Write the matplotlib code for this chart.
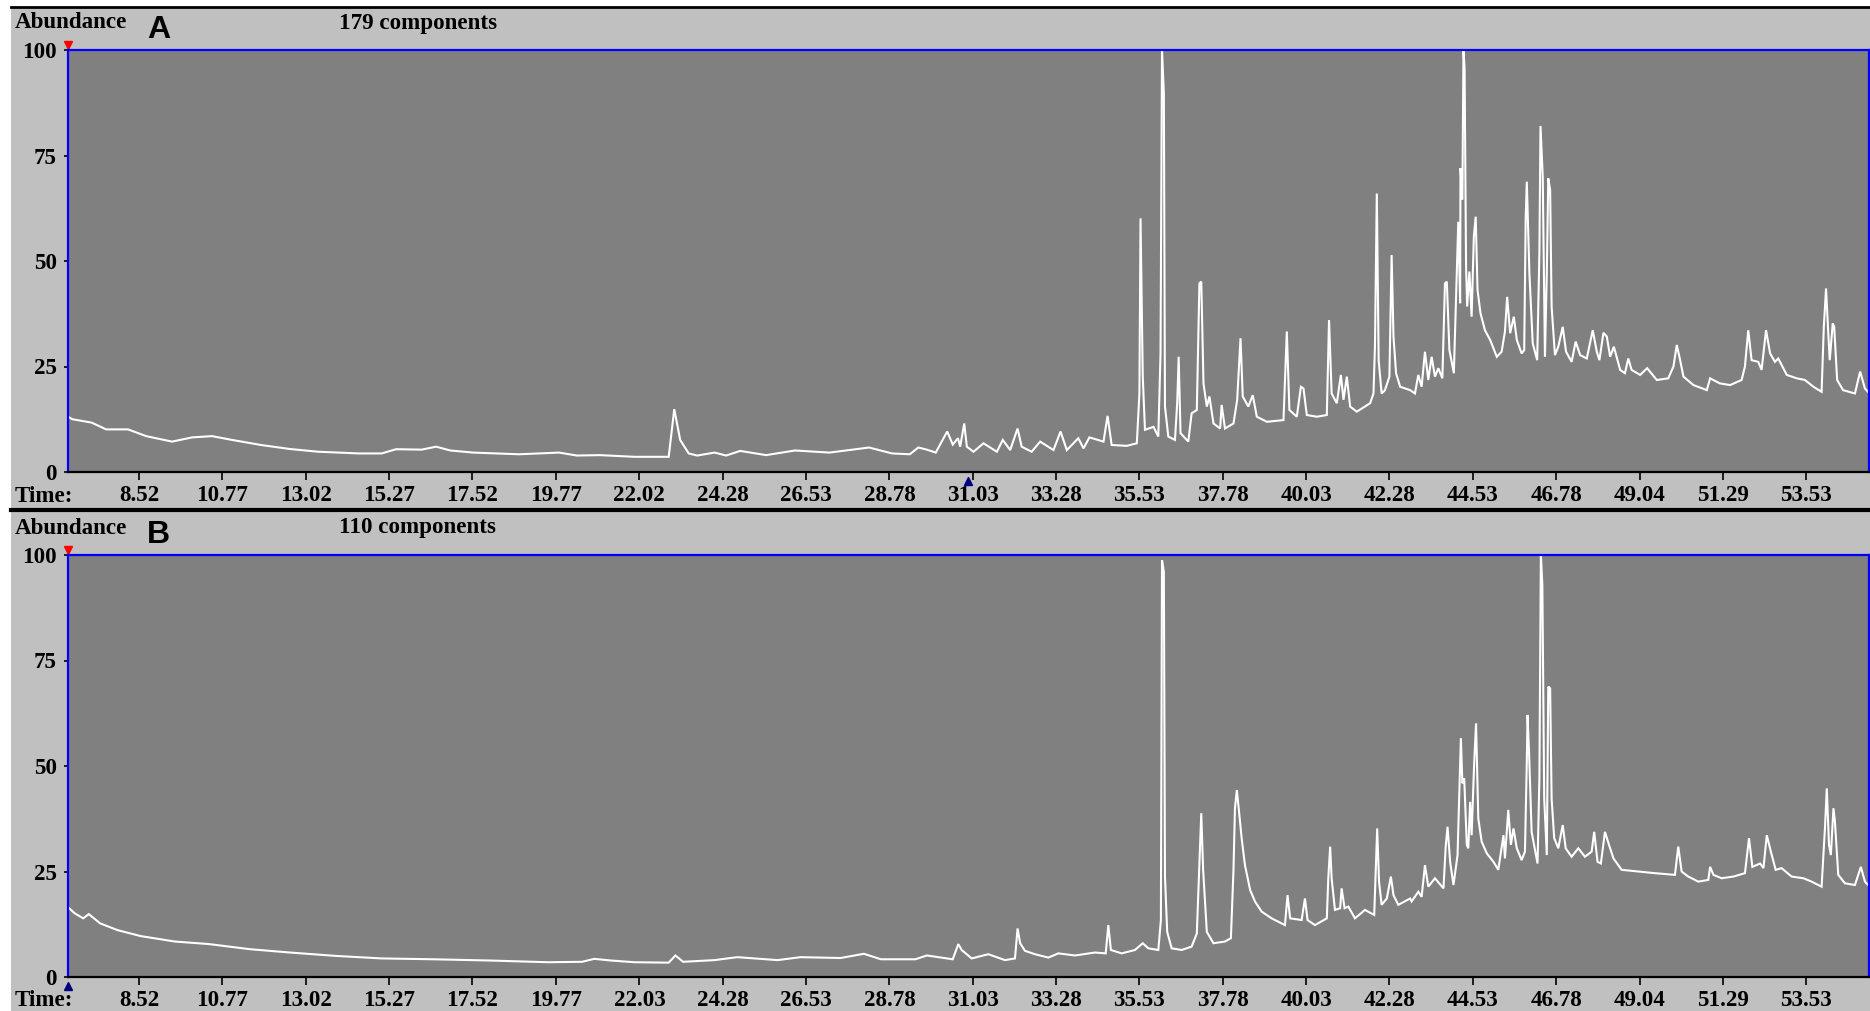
import matplotlib
matplotlib.use('Agg')
import matplotlib.pyplot as plt
from matplotlib.lines import Line2D
from matplotlib.patches import Rectangle

# ---- data (time in min, abundance %) ----
a_time = [6.60, 6.72, 7.24, 7.63, 8.22, 8.71, 9.41, 9.95, 10.49, 11.03, 11.81, 12.59,
          13.36, 14.45, 15.07, 15.46, 16.15, 16.54, 16.92, 17.54, 18.78, 19.86, 20.34,
          20.96, 21.89, 22.82, 22.97, 23.13, 23.36, 23.59, 24.06, 24.37, 24.75, 25.45,
          26.23, 27.16, 28.23, 28.85, 29.33, 29.56, 29.79, 30.03, 30.34, 30.49, 30.63,
          30.69, 30.80, 30.87, 31.05, 31.32, 31.68, 31.84, 32.04, 32.24, 32.35, 32.62,
          32.85, 33.21, 33.40, 33.57, 33.88, 34.02, 34.18, 34.56, 34.67, 34.78, 35.19,
          35.46, 35.53, 35.56, 35.62, 35.68, 35.91, 36.04, 36.10, 36.14, 36.19, 36.22,
          36.31, 36.49, 36.55, 36.59, 36.64, 36.85, 36.94, 37.08, 37.15, 37.20, 37.26,
          37.35, 37.42, 37.53, 37.71, 37.75, 37.84, 38.07, 38.17, 38.26, 38.32, 38.47,
          38.59, 38.70, 38.97, 39.42, 39.51, 39.58, 39.78, 39.89, 39.96, 40.05, 40.32,
          40.59, 40.65, 40.72, 40.86, 40.97, 41.04, 41.13, 41.22, 41.40, 41.76, 41.85,
          41.89, 41.94, 41.99, 42.07, 42.16, 42.28, 42.34, 42.39, 42.46, 42.57, 42.84,
          42.97, 43.06, 43.15, 43.24, 43.33, 43.42, 43.51, 43.60, 43.71, 43.78, 43.83,
          43.90, 44.02, 44.10, 44.14, 44.19, 44.20, 44.25, 44.28, 44.31, 44.35, 44.38,
          44.44, 44.50, 44.56, 44.61, 44.66, 44.74, 44.86, 45.00, 45.18, 45.31, 45.40,
          45.46, 45.54, 45.64, 45.72, 45.85, 45.92, 45.96, 45.99, 46.06, 46.15, 46.27,
          46.33, 46.36, 46.42, 46.48, 46.53, 46.57, 46.62, 46.66, 46.75, 46.84, 46.96,
          47.05, 47.20, 47.31, 47.43, 47.61, 47.77, 47.88, 47.95, 48.06, 48.15, 48.24,
          48.34, 48.51, 48.64, 48.73, 48.82, 49.05, 49.24, 49.50, 49.81, 49.95, 50.04,
          50.13, 50.22, 50.49, 50.85, 50.94, 51.20, 51.48, 51.79, 51.88, 51.97, 52.06,
          52.24, 52.33, 52.45, 52.56, 52.69, 52.78, 53.01, 53.28, 53.50, 53.73, 53.95,
          54.01, 54.07, 54.13, 54.17, 54.25, 54.29, 54.37, 54.53, 54.85, 54.99, 55.12,
          55.24]
a_abund = [13.1, 12.5, 11.7, 10.1, 10.1, 8.5, 7.2, 8.2, 8.5, 7.6, 6.4, 5.45,
           4.8, 4.4, 4.4, 5.4, 5.3, 6.0, 5.1, 4.6, 4.2, 4.6, 3.9,
           4.0, 3.6, 3.6, 14.9, 7.6, 4.4, 3.9, 4.6, 3.9, 5.0, 4.0,
           5.1, 4.6, 5.8, 4.4, 4.2, 5.8, 5.3, 4.6, 9.6, 6.5, 8.0,
           6.0, 11.5, 6.0, 4.8, 6.8, 4.8, 7.6, 5.2, 10.3, 6.0, 4.8,
           7.2, 5.2, 9.6, 5.2, 8.0, 5.6, 8.2, 7.2, 13.3, 6.4, 6.2,
           6.8, 18.6, 60.1, 22.6, 10.0, 10.7, 8.4, 28.1, 100.0, 89.7, 15.5,
           8.4, 7.6, 16.3, 27.3, 9.2, 7.2, 13.9, 14.7, 44.7, 45.1, 21.0,
           15.5, 17.9, 11.5, 10.3, 15.9, 10.3, 11.5, 17.1, 31.7, 17.9, 15.5,
           18.2, 13.1, 11.9, 12.3, 33.3, 14.7, 13.1, 20.2, 19.8, 13.5, 13.1,
           13.5, 36.0, 18.6, 16.3, 23.0, 17.1, 22.6, 15.5, 14.3, 16.3, 18.6,
           29.7, 66.0, 26.5, 18.6, 19.4, 22.6, 51.4, 32.1, 23.4, 20.2, 19.4,
           18.6, 23.0, 20.2, 28.5, 21.8, 27.3, 22.6, 24.6, 22.2, 44.7, 45.1,
           28.9, 23.4, 47.9, 59.3, 40.0, 72.0, 64.5, 100.0, 95.7, 48.7, 39.2,
           47.5, 36.8, 55.8, 60.5, 43.1, 37.6, 33.6, 31.3, 27.3, 28.5, 33.3,
           41.5, 32.9, 36.8, 31.3, 28.1, 28.9, 60.1, 68.8, 47.1, 30.5, 26.5,
           51.8, 82.0, 70.0, 27.3, 47.1, 69.6, 66.8, 39.2, 27.7, 29.7, 34.4,
           28.5, 26.1, 30.9, 27.7, 26.9, 33.6, 28.5, 26.5, 33.0, 32.1, 27.3,
           29.7, 24.2, 23.4, 26.9, 24.2, 23.0, 24.6, 21.8, 22.2, 25.0, 30.1,
           26.5, 22.6, 20.6, 19.4, 22.2, 21.0, 20.6, 21.8, 25.0, 33.6, 26.5,
           26.1, 24.2, 33.6, 28.1, 26.1, 26.9, 23.0, 22.2, 21.8, 20.2, 19.0,
           34.4, 43.5, 32.9, 26.5, 35.2, 34.4, 21.8, 19.4, 18.6, 23.8, 19.8,
           18.6]

b_time = [6.58, 6.78, 7.01, 7.16, 7.47, 7.94, 8.56, 9.49, 10.41, 11.50, 12.59, 13.83,
          15.07, 16.46, 18.01, 19.56, 20.48, 20.81, 21.27, 21.89, 22.82, 23.00, 23.21,
          24.06, 24.67, 25.76, 26.38, 27.46, 28.09, 28.55, 29.48, 29.79, 30.49, 30.64,
          30.73, 31.00, 31.45, 31.90, 32.17, 32.24, 32.31, 32.44, 32.71, 33.07, 33.34,
          33.79, 34.33, 34.62, 34.69, 34.76, 35.05, 35.41, 35.62, 35.77, 36.04, 36.11,
          36.14, 36.19, 36.22, 36.28, 36.40, 36.67, 36.94, 37.08, 37.15, 37.20, 37.25,
          37.35, 37.53, 37.84, 38.00, 38.07, 38.11, 38.16, 38.22, 38.29, 38.38, 38.52,
          38.65, 38.83, 39.10, 39.46, 39.53, 39.60, 39.91, 40.00, 40.07, 40.27, 40.59,
          40.63, 40.68, 40.72, 40.81, 40.95, 40.99, 41.07, 41.17, 41.35, 41.62, 41.87,
          41.91, 41.95, 42.00, 42.07, 42.21, 42.32, 42.39, 42.52, 42.84, 42.88, 43.06,
          43.15, 43.24, 43.33, 43.51, 43.74, 43.80, 43.85, 43.92, 44.01, 44.12, 44.17,
          44.21, 44.25, 44.30, 44.37, 44.41, 44.46, 44.50, 44.57, 44.62, 44.68, 44.77,
          44.91, 45.09, 45.22, 45.36, 45.40, 45.49, 45.56, 45.63, 45.72, 45.85, 45.94,
          45.99, 46.01, 46.05, 46.12, 46.28, 46.33, 46.37, 46.41, 46.46, 46.53, 46.57,
          46.62, 46.66, 46.73, 46.84, 46.96, 47.04, 47.20, 47.38, 47.56, 47.74, 47.81,
          47.90, 47.99, 48.10, 48.21, 48.33, 48.55, 49.00, 49.45, 49.99, 50.08, 50.17,
          50.35, 50.62, 50.89, 50.94, 51.03, 51.25, 51.57, 51.88, 51.99, 52.08, 52.29,
          52.38, 52.47, 52.58, 52.71, 52.87, 53.14, 53.46, 53.68, 53.95, 54.04, 54.09,
          54.15, 54.20, 54.27, 54.31, 54.40, 54.58, 54.85, 55.01, 55.12, 55.25]
b_abund = [16.7, 15.1, 13.9, 14.9, 12.7, 11.1, 9.7, 8.4, 7.8, 6.6, 5.8, 5.0,
           4.4, 4.2, 3.9, 3.5, 3.6, 4.3, 3.9, 3.5, 3.4, 5.1, 3.6,
           4.0, 4.7, 4.0, 4.7, 4.5, 5.5, 4.2, 4.2, 5.1, 4.2, 7.8,
           6.4, 4.4, 5.4, 4.0, 4.4, 11.5, 8.0, 6.2, 5.4, 4.6, 5.6,
           5.1, 5.8, 5.6, 12.3, 6.4, 5.6, 6.4, 8.0, 6.8, 6.4, 13.5,
           98.8, 96.0, 23.8, 10.7, 6.8, 6.4, 7.2, 10.3, 26.9, 38.8, 25.4,
           10.7, 8.0, 8.4, 9.2, 25.4, 40.0, 44.3, 39.2, 32.9, 26.5, 20.6,
           17.9, 15.5, 13.9, 12.3, 19.4, 13.9, 13.5, 18.6, 13.5, 12.3, 13.9,
           23.4, 30.9, 23.4, 15.9, 16.3, 21.0, 16.3, 16.7, 13.9, 15.9, 14.7,
           25.0, 35.2, 22.6, 17.1, 18.6, 23.8, 19.4, 17.1, 18.6, 17.9, 20.2,
           19.0, 26.5, 21.4, 23.4, 21.0, 30.9, 35.6, 27.3, 21.8, 28.9, 43.9,
           56.6, 45.9, 47.1, 31.3, 30.5, 41.5, 33.6, 51.0, 60.1, 37.6, 32.1,
           29.3, 27.3, 25.4, 33.6, 28.1, 39.6, 31.3, 35.2, 30.5, 27.7, 29.7,
           51.0, 62.1, 53.4, 34.4, 26.9, 47.1, 100.0, 92.9, 42.3, 28.9, 68.8,
           68.4, 42.3, 32.9, 30.5, 36.0, 30.5, 28.5, 30.5, 28.5, 29.7, 34.4,
           27.3, 26.9, 34.4, 31.3, 28.1, 25.4, 25.0, 24.6, 24.2, 30.9, 25.0,
           23.8, 22.6, 23.0, 26.1, 24.2, 23.4, 23.8, 24.6, 32.9, 26.1, 26.9,
           25.8, 33.6, 29.7, 25.4, 25.8, 23.8, 23.4, 22.6, 21.4, 35.2, 44.7,
           31.3, 28.9, 40.0, 36.8, 24.2, 22.2, 21.8, 26.1, 22.6, 21.4]

a_ticks = ['8.52', '10.77', '13.02', '15.27', '17.52', '19.77', '22.02', '24.28', '26.53',
           '28.78', '31.03', '33.28', '35.53', '37.78', '40.03', '42.28', '44.53', '46.78',
           '49.04', '51.29', '53.53']
b_ticks = ['8.52', '10.77', '13.02', '15.27', '17.52', '19.77', '22.03', '24.28', '26.53',
           '28.78', '31.03', '33.28', '35.53', '37.78', '40.03', '42.28', '44.53', '46.78',
           '49.04', '51.29', '53.53']
y_ticks = [0, 25, 50, 75, 100]

W, H = 1870, 1011
SERIF = 'Liberation Serif'
FS = 16.6

fig = plt.figure(figsize=(W / 100, H / 100), dpi=100)
fig.patch.set_facecolor('white')
fig.patches.append(Rectangle((11 / W, 0), 1, 1 - 8 / H, transform=fig.transFigure,
                             facecolor='#c0c0c0', edgecolor='none', zorder=-10))


def px(x, y):
    return x / W, 1 - y / H


def hline(y, lw):
    fig.add_artist(Line2D([11 / W, 1], [1 - y / H] * 2, color='black', lw=lw))


def panel(top, times, abund, letter, ncomp, tlabels, t_marker):
    bottom = top + 422
    ax = fig.add_axes([68 / W, 1 - bottom / H, 1801 / W, 422 / H])
    ax.set_facecolor('#808080')
    ax.plot(times, abund, color='white', lw=1.5, solid_joinstyle='miter')
    ax.set_xlim(6.60, 55.23)
    ax.set_ylim(0, 100)
    for s in ['top', 'left', 'right']:
        ax.spines[s].set_color('#0000ff')
        ax.spines[s].set_linewidth(1.6)
    ax.spines['bottom'].set_color('black')
    ax.spines['bottom'].set_linewidth(1.6)
    ax.set_xticks([float(t) for t in tlabels])
    ax.set_xticklabels(tlabels)
    ax.set_yticks(y_ticks)
    ax.set_yticklabels([str(v) for v in y_ticks])
    ax.tick_params(axis='x', direction='out', length=6, width=1.2, pad=3.5)
    ax.tick_params(axis='y', direction='out', length=3, width=1.2, pad=5)
    for lab in ax.get_xticklabels() + ax.get_yticklabels():
        lab.set_fontfamily(SERIF)
        lab.set_fontweight('bold')
        lab.set_fontsize(FS)
    # run markers
    ax.plot([6.60], [101.3], marker='v', color='red', ms=6, clip_on=False)
    ax.plot([t_marker], [-2.2], marker='^', color='#000080', ms=6, clip_on=False)
    # header texts
    off = top - 50
    fig.text(*px(15, 23 + off), 'Abundance', family=SERIF, weight='bold', size=FS,
             va='center', ha='left')
    fig.text(*px(147, 30 + off), letter, family='Liberation Sans', weight='bold', size=23,
             va='center', ha='left')
    fig.text(*px(339, 23 + off), ncomp, family=SERIF, weight='bold', size=FS,
             va='center', ha='left')
    fig.text(*px(15, 496 + off), 'Time:', family=SERIF, weight='bold', size=FS,
             va='center', ha='left')
    return ax


panel(50, a_time, a_abund, 'A', '179 components', a_ticks, 30.90)
panel(555, b_time, b_abund, 'B', '110 components', b_ticks, 6.60)
hline(7, 2)
hline(510, 3)

fig.savefig('out.png', dpi=100, facecolor=fig.get_facecolor())
